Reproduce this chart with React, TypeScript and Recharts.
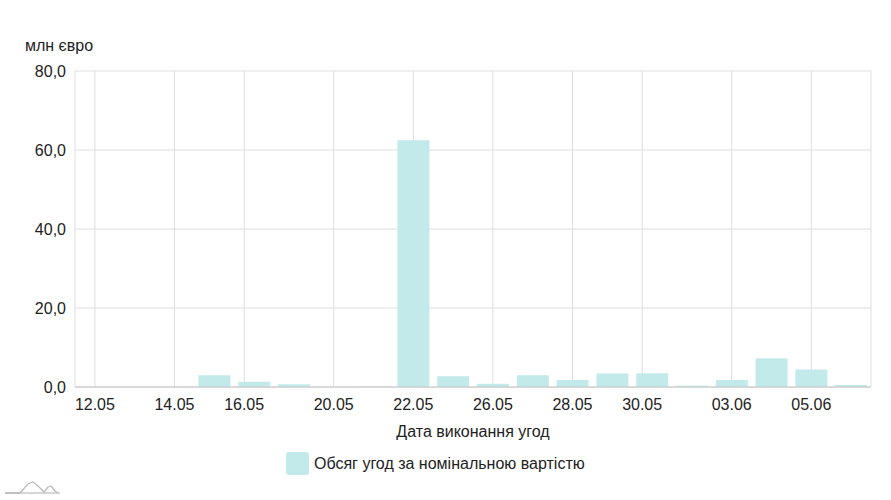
import React from 'react';
import { BarChart, Bar, XAxis, YAxis, CartesianGrid } from 'recharts';

const dates = ['12.05', '13.05', '14.05', '15.05', '16.05', '19.05', '20.05', '21.05', '22.05', '23.05', '26.05', '27.05', '28.05', '29.05', '30.05', '02.06', '03.06', '04.06', '05.06', '06.06'];
const volumes = [0, 0, 0, 3.0, 1.3, 0.7, 0, 0.1, 62.5, 2.7, 0.8, 3.0, 1.8, 3.4, 3.5, 0.35, 1.8, 7.3, 4.4, 0.5];
const xTickValues = [0, 2, 3.75, 6, 8, 10, 12, 13.75, 16, 18];
const xTickLabels = ['12.05', '14.05', '16.05', '20.05', '22.05', '26.05', '28.05', '30.05', '03.06', '05.06'];
const yTicks = [0, 20, 40, 60, 80];

const data = dates.map((d, i) => ({ i, date: d, value: volumes[i] }));

const FONT = '"Liberation Sans", Arial, sans-serif';
const BAR = '#c2eaea';
const TEXT = '#222';

const fmtY = (v: number) => v.toFixed(1).replace('.', ',');
const fmtX = (v: number) => {
  const k = xTickValues.indexOf(v);
  return k >= 0 ? xTickLabels[k] : '';
};

export default function App() {
  return (
    <div style={{ position: 'absolute', left: 0, top: 0, width: 891, height: 500, fontFamily: FONT, color: TEXT, background: '#fff' }}>
      <div style={{ position: 'absolute', left: 25, top: 37, fontSize: 16, lineHeight: '18px' }}>млн євро</div>
      <BarChart width={891} height={500} data={data} margin={{ top: 71, right: 20, bottom: 53, left: 0 }}>
        <CartesianGrid stroke="#dedede" strokeWidth={1} />
        <XAxis
          dataKey="i"
          type="number"
          domain={[-0.5, 19.5]}
          ticks={xTickValues}
          tickFormatter={fmtX}
          interval={0}
          height={60}
          tickLine={false}
          tickMargin={6}
          axisLine={{ stroke: '#c4c4c4' }}
          tick={{ fill: TEXT, fontSize: 16, fontFamily: FONT }}
          label={{ value: 'Дата виконання угод', position: 'insideBottom', offset: 10, fill: TEXT, fontSize: 16, fontFamily: FONT }}
        />
        <YAxis
          type="number"
          domain={[0, 80]}
          ticks={yTicks}
          tickFormatter={fmtY}
          width={75}
          axisLine={false}
          tickLine={false}
          tickMargin={3}
          tick={{ fill: TEXT, fontSize: 16, fontFamily: FONT }}
        />
        <Bar dataKey="value" fill={BAR} barSize={32} isAnimationActive={false} />
      </BarChart>
      <div style={{ position: 'absolute', left: 286, top: 452, display: 'flex', alignItems: 'center' }}>
        <div style={{ width: 23, height: 23, borderRadius: 3, background: BAR }} />
        <span style={{ marginLeft: 5, fontSize: 16 }}>Обсяг угод за номінальною вартістю</span>
      </div>
      <svg style={{ position: 'absolute', left: 0, top: 476 }} width={70} height={24}>
        <line x1={5} y1={17} x2={60} y2={17} stroke="#c8c8c8" strokeWidth={1.5} />
        <polyline points="5,17 20,17 28,8 33,6 38,10 44,16 48,11 51,10 55,15 58,17" fill="none" stroke="#bbbbbb" strokeWidth={1.3} />
      </svg>
    </div>
  );
}
